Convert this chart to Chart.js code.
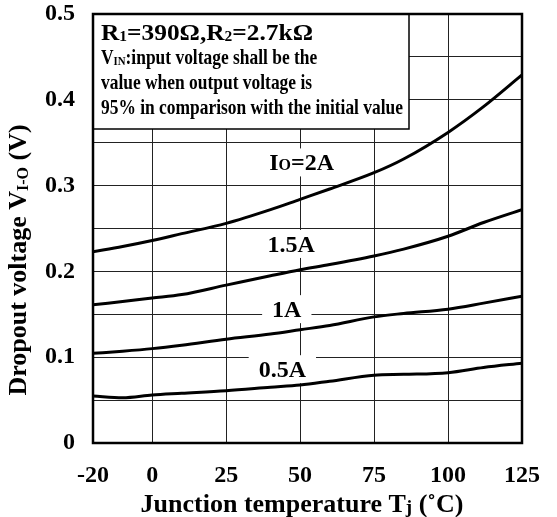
<!DOCTYPE html>
<html>
<head>
<meta charset="utf-8">
<script src="https://cdn.jsdelivr.net/npm/chart.js"></script>
<style>
  html, body { margin: 0; padding: 0; background: #fff; }
  canvas { display: block; }
</style>
</head>
<body>
<canvas id="chart" width="557" height="517"></canvas>
<script>
// Junction temperature (deg C) sample points
const temps = [-20, -10, 0, 10, 25, 40, 50, 60, 75, 85, 100, 112, 125];

// Dropout voltage (V) per output current
const io2A   = [0.223, 0.229, 0.236, 0.244, 0.256, 0.272, 0.284, 0.296, 0.315, 0.331, 0.362, 0.392, 0.429];
const io15A  = [0.161, 0.165, 0.169, 0.173, 0.184, 0.195, 0.202, 0.208, 0.218, 0.226, 0.241, 0.257, 0.272];
const io1A   = [0.1045, 0.107, 0.110, 0.114, 0.121, 0.127, 0.132, 0.137, 0.147, 0.151, 0.156, 0.163, 0.171];
const io05A  = [0.0548, 0.0528, 0.056, 0.058, 0.061, 0.065, 0.0676, 0.072, 0.079, 0.080, 0.082, 0.088, 0.093];

const xTicks = [-20, 0, 25, 50, 75, 100, 125];
const yTicks = [0, 0.05, 0.1, 0.15, 0.2, 0.25, 0.3, 0.35, 0.4, 0.45, 0.5];

// curve labels: [parts, temp, volt]
const curveLabels = [
  [[{ t: 'I' }, { t: 'O', sub: true }, { t: '=2A' }], 50.5, 0.327],
  [[{ t: '1.5A' }], 47, 0.232],
  [[{ t: '1A' }], 45.5, 0.156],
  [[{ t: '0.5A' }], 44, 0.086]
];

const SERIF = '"Liberation Serif", "Times New Roman", serif';

function font(size) {
  return 'bold ' + size + 'px ' + SERIF;
}

function richWidth(ctx, parts, size, subSize) {
  let w = 0;
  parts.forEach(p => {
    ctx.font = font(p.sub ? subSize : size);
    w += ctx.measureText(p.t).width;
  });
  return w;
}

// text with small subscripts
function drawRich(ctx, parts, x, y, size, subSize, subShift) {
  let cx = x;
  ctx.textBaseline = 'alphabetic';
  ctx.textAlign = 'left';
  parts.forEach(p => {
    ctx.font = font(p.sub ? subSize : size);
    ctx.fillText(p.t, cx, y + (p.sub ? subShift : 0));
    cx += ctx.measureText(p.t).width;
  });
}

function mkSet(data) {
  return {
    data: temps.map((t, i) => ({ x: t, y: data[i] })),
    borderColor: '#000',
    borderWidth: 3,
    pointRadius: 0,
    fill: false,
    cubicInterpolationMode: 'monotone'
  };
}

const overlay = {
  id: 'overlay',
  beforeDatasetsDraw(chart) {
    const ctx = chart.ctx;
    const xs = chart.scales.x, ys = chart.scales.y;
    const area = chart.chartArea;
    ctx.save();

    // condition box
    const bx = area.left, by = area.top, bw = 409 - area.left, bh = 129 - area.top;
    ctx.fillStyle = '#fff';
    ctx.fillRect(bx, by, bw, bh);
    ctx.strokeStyle = '#000';
    ctx.lineWidth = 1.5;
    ctx.strokeRect(bx, by, bw, bh);
    ctx.fillStyle = '#000';

    const line1 = [{ t: 'R' }, { t: '1', sub: true }, { t: '=390Ω,R' }, { t: '2', sub: true }, { t: '=2.7kΩ' }];
    const w1 = richWidth(ctx, line1, 23, 14);
    ctx.save();
    ctx.translate(101, 40);
    ctx.scale(212 / w1, 1);
    drawRich(ctx, line1, 0, 0, 23, 14, 1);
    ctx.restore();

    const lines = [
      [{ t: 'V' }, { t: 'IN', sub: true }, { t: ':input voltage shall be the' }],
      [{ t: 'value when output voltage is' }],
      [{ t: '95% in comparison with the initial value' }]
    ];
    const sx = 302 / richWidth(ctx, lines[2], 21, 13);
    lines.forEach((ln, i) => {
      ctx.save();
      ctx.translate(101, 64 + i * 25);
      ctx.scale(sx, 1);
      drawRich(ctx, ln, 0, 0, 21, 13, 1);
      ctx.restore();
    });

    // curve labels with white backing
    curveLabels.forEach(([parts, t, v]) => {
      const w = richWidth(ctx, parts, 24, 16);
      const cx = xs.getPixelForValue(t), cy = ys.getPixelForValue(v);
      ctx.fillStyle = '#fff';
      ctx.fillRect(cx - w / 2 - 10, cy - 14, w + 20, 28);
      ctx.fillStyle = '#000';
      drawRich(ctx, parts, cx - w / 2, cy + 8, 24, 16, 0);
    });

    ctx.restore();
  },
  afterDraw(chart) {
    const ctx = chart.ctx;
    const area = chart.chartArea;
    ctx.save();
    ctx.strokeStyle = '#000';
    ctx.lineWidth = 2.5;
    ctx.strokeRect(area.left, area.top, area.right - area.left, area.bottom - area.top);

    ctx.fillStyle = '#000';
    // x title
    const xt = [{ t: 'Junction temperature T' }, { t: 'j', sub: true }, { t: ' (˚C)' }];
    const wx = richWidth(ctx, xt, 26, 19);
    drawRich(ctx, xt, 302 - wx / 2, 512, 26, 19, 1);

    // y title
    const yt = [{ t: 'Dropout voltage V' }, { t: 'I-O', sub: true }, { t: ' (V)' }];
    const wy = richWidth(ctx, yt, 26, 16);
    ctx.translate(26, 260);
    ctx.rotate(-Math.PI / 2);
    drawRich(ctx, yt, -wy / 2, 0, 26, 16, 2);
    ctx.restore();
  }
};

new Chart(document.getElementById('chart').getContext('2d'), {
  type: 'line',
  data: {
    datasets: [mkSet(io2A), mkSet(io15A), mkSet(io1A), mkSet(io05A)]
  },
  options: {
    responsive: false,
    animation: false,
    devicePixelRatio: 1,
    layout: { padding: { top: 14, right: 35, left: 0, bottom: 0 } },
    plugins: { legend: { display: false }, tooltip: { enabled: false } },
    scales: {
      x: {
        type: 'linear',
        min: -20,
        max: 125,
        afterBuildTicks: s => { s.ticks = xTicks.map(v => ({ value: v })); },
        afterFit: s => { s.height = 74; s.paddingLeft = 0; s.paddingRight = 0; },
        grid: { color: '#222', lineWidth: 1, drawTicks: false },
        border: { display: false },
        ticks: {
          color: '#000',
          font: { family: SERIF, size: 24, weight: 'bold' },
          padding: 18,
          maxRotation: 0,
          autoSkip: false
        }
      },
      y: {
        type: 'linear',
        min: 0,
        max: 0.5,
        afterBuildTicks: s => { s.ticks = yTicks.map(v => ({ value: v })); },
        afterFit: s => { s.width = 93; s.paddingTop = 0; s.paddingBottom = 0; },
        grid: { color: '#222', lineWidth: 1, drawTicks: false },
        border: { display: false },
        ticks: {
          color: '#000',
          font: { family: SERIF, size: 24, weight: 'bold' },
          padding: 18,
          autoSkip: false,
          callback: v => {
            const k = Math.round(v * 100);
            if (k % 10 !== 0) return '';
            return k === 0 ? '0' : (k / 100).toFixed(1);
          }
        }
      }
    }
  },
  plugins: [overlay]
});
</script>
</body>
</html>
